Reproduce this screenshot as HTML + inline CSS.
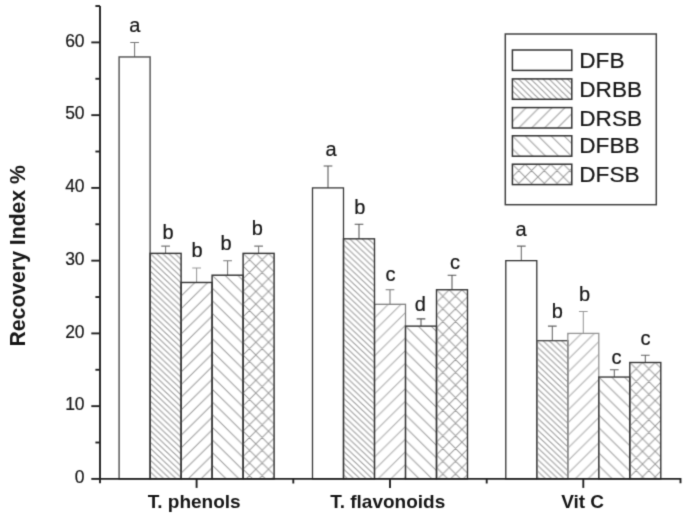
<!DOCTYPE html>
<html><head><meta charset="utf-8"><style>
html,body{margin:0;padding:0;background:#fff;width:685px;height:518px;overflow:hidden}
svg{display:block;font-family:"Liberation Sans",sans-serif;}
</style></head><body>
<svg width="685" height="518" viewBox="0 0 685 518">
<defs>
<filter id="fb" x="0" y="0" width="685" height="518" filterUnits="userSpaceOnUse" color-interpolation-filters="sRGB"><feConvolveMatrix order="3" kernelMatrix="0.0367 0.1915 0.0367 0.1915 1 0.1915 0.0367 0.1915 0.0367" divisor="1.9127" edgeMode="duplicate"/></filter>
<pattern id="b01" patternUnits="userSpaceOnUse" width="6.2" height="5.9" x="150.1" y="253.37499999999997"><path d="M-7.440,-1.180 L1.240,7.080 M-1.240,-1.180 L7.440,7.080 M4.960,-1.180 L13.640,7.080" stroke="#9a9a9a" stroke-width="1.0" fill="none"/></pattern>
<pattern id="b02" patternUnits="userSpaceOnUse" width="12.8" height="12.65" x="181.1" y="283.47499999999997"><path d="M-15.360,15.180 L2.560,-2.530 M-2.560,15.180 L15.360,-2.530 M10.240,15.180 L28.160,-2.530" stroke="#9a9a9a" stroke-width="1.0" fill="none"/></pattern>
<pattern id="b03" patternUnits="userSpaceOnUse" width="12.8" height="12.65" x="212.1" y="275.19999999999993"><path d="M-15.360,-2.530 L2.560,15.180 M-2.560,-2.530 L15.360,15.180 M10.240,-2.530 L28.160,15.180" stroke="#9a9a9a" stroke-width="1.0" fill="none"/></pattern>
<pattern id="b04" patternUnits="userSpaceOnUse" width="12.7" height="12.7" x="243.1" y="253.37499999999997"><path d="M-15.240,-2.540 L2.540,15.240 M-15.240,15.240 L2.540,-2.540 M-2.540,-2.540 L15.240,15.240 M-2.540,15.240 L15.240,-2.540 M10.160,-2.540 L27.940,15.240 M10.160,15.240 L27.940,-2.540" stroke="#9a9a9a" stroke-width="1.0" fill="none"/></pattern>
<pattern id="b12" patternUnits="userSpaceOnUse" width="12.8" height="12.65" x="374.5" y="305.29999999999995"><path d="M-15.360,15.180 L2.560,-2.530 M-2.560,15.180 L15.360,-2.530 M10.240,15.180 L28.160,-2.530" stroke="#a8a8a8" stroke-width="1.0" fill="none"/></pattern>
<pattern id="b11" patternUnits="userSpaceOnUse" width="6.2" height="5.9" x="343.5" y="238.82499999999996"><path d="M-7.440,-1.180 L1.240,7.080 M-1.240,-1.180 L7.440,7.080 M4.960,-1.180 L13.640,7.080" stroke="#9a9a9a" stroke-width="1.0" fill="none"/></pattern>
<pattern id="b13" patternUnits="userSpaceOnUse" width="12.8" height="12.65" x="405.5" y="326.125"><path d="M-15.360,-2.530 L2.560,15.180 M-2.560,-2.530 L15.360,15.180 M10.240,-2.530 L28.160,15.180" stroke="#9a9a9a" stroke-width="1.0" fill="none"/></pattern>
<pattern id="b14" patternUnits="userSpaceOnUse" width="12.7" height="12.7" x="436.5" y="289.75"><path d="M-15.240,-2.540 L2.540,15.240 M-15.240,15.240 L2.540,-2.540 M-2.540,-2.540 L15.240,15.240 M-2.540,15.240 L15.240,-2.540 M10.160,-2.540 L27.940,15.240 M10.160,15.240 L27.940,-2.540" stroke="#9a9a9a" stroke-width="1.0" fill="none"/></pattern>
<pattern id="b21" patternUnits="userSpaceOnUse" width="6.2" height="5.9" x="536.8" y="340.67499999999995"><path d="M-7.440,-1.180 L1.240,7.080 M-1.240,-1.180 L7.440,7.080 M4.960,-1.180 L13.640,7.080" stroke="#9a9a9a" stroke-width="1.0" fill="none"/></pattern>
<pattern id="b22" patternUnits="userSpaceOnUse" width="12.8" height="12.65" x="567.8" y="334.4"><path d="M-15.360,15.180 L2.560,-2.530 M-2.560,15.180 L15.360,-2.530 M10.240,15.180 L28.160,-2.530" stroke="#a8a8a8" stroke-width="1.0" fill="none"/></pattern>
<pattern id="b23" patternUnits="userSpaceOnUse" width="12.8" height="12.65" x="598.8" y="377.04999999999995"><path d="M-15.360,-2.530 L2.560,15.180 M-2.560,-2.530 L15.360,15.180 M10.240,-2.530 L28.160,15.180" stroke="#9a9a9a" stroke-width="1.0" fill="none"/></pattern>
<pattern id="b24" patternUnits="userSpaceOnUse" width="12.7" height="12.7" x="629.8" y="362.5"><path d="M-15.240,-2.540 L2.540,15.240 M-15.240,15.240 L2.540,-2.540 M-2.540,-2.540 L15.240,15.240 M-2.540,15.240 L15.240,-2.540 M10.160,-2.540 L27.940,15.240 M10.160,15.240 L27.940,-2.540" stroke="#9a9a9a" stroke-width="1.0" fill="none"/></pattern>
<pattern id="l1" patternUnits="userSpaceOnUse" width="6.1" height="6.0" x="512.4" y="78.9"><path d="M-7.320,-1.200 L1.220,7.200 M-1.220,-1.200 L7.320,7.200 M4.880,-1.200 L13.420,7.200" stroke="#9a9a9a" stroke-width="1.0" fill="none"/></pattern>
<pattern id="l2" patternUnits="userSpaceOnUse" width="12.9" height="12.9" x="512.4" y="108.6"><path d="M-15.480,15.480 L2.580,-2.580 M-2.580,15.480 L15.480,-2.580 M10.320,15.480 L28.380,-2.580" stroke="#9a9a9a" stroke-width="1.0" fill="none"/></pattern>
<pattern id="l3" patternUnits="userSpaceOnUse" width="12.9" height="12.9" x="512.4" y="135.8"><path d="M-15.480,-2.580 L2.580,15.480 M-2.580,-2.580 L15.480,15.480 M10.320,-2.580 L28.380,15.480" stroke="#9a9a9a" stroke-width="1.0" fill="none"/></pattern>
<pattern id="l4" patternUnits="userSpaceOnUse" width="12.75" height="12.75" x="512.4" y="164.2"><path d="M-15.300,-2.550 L2.550,15.300 M-15.300,15.300 L2.550,-2.550 M-2.550,-2.550 L15.300,15.300 M-2.550,15.300 L15.300,-2.550 M10.200,-2.550 L28.050,15.300 M10.200,15.300 L28.050,-2.550" stroke="#9a9a9a" stroke-width="1.0" fill="none"/></pattern>
</defs>
<g filter="url(#fb)">
<rect width="685" height="518" fill="#fff"/>
<path d="M134.60,56.95V42.40M130.25,42.40H138.95" stroke="#777" stroke-width="1.05" fill="none"/>
<rect x="119.10" y="56.95" width="31.00" height="421.95" fill="#fff" stroke="#555" stroke-width="1.45"/>
<path d="M165.60,253.37V246.10M161.25,246.10H169.95" stroke="#777" stroke-width="1.05" fill="none"/>
<rect x="150.10" y="253.37" width="31.00" height="225.53" fill="url(#b01)" stroke="#363636" stroke-width="1.45"/>
<path d="M196.60,282.47V267.92M192.25,267.92H200.95" stroke="#999" stroke-width="1.05" fill="none"/>
<rect x="181.10" y="282.47" width="31.00" height="196.43" fill="url(#b02)" stroke="#363636" stroke-width="1.45"/>
<path d="M227.60,275.20V260.65M223.25,260.65H231.95" stroke="#777" stroke-width="1.05" fill="none"/>
<rect x="212.10" y="275.20" width="31.00" height="203.70" fill="url(#b03)" stroke="#363636" stroke-width="1.45"/>
<path d="M258.60,253.37V246.10M254.25,246.10H262.95" stroke="#777" stroke-width="1.05" fill="none"/>
<rect x="243.10" y="253.37" width="31.00" height="225.53" fill="url(#b04)" stroke="#363636" stroke-width="1.45"/>
<path d="M390.00,304.30V289.75M385.65,289.75H394.35" stroke="#777" stroke-width="1.05" fill="none"/>
<rect x="374.50" y="304.30" width="31.00" height="174.60" fill="url(#b12)" stroke="#808080" stroke-width="1.3"/>
<path d="M328.00,187.90V166.07M323.65,166.07H332.35" stroke="#555" stroke-width="1.05" fill="none"/>
<rect x="312.50" y="187.90" width="31.00" height="291.00" fill="#fff" stroke="#383838" stroke-width="1.3"/>
<path d="M359.00,238.82V224.27M354.65,224.27H363.35" stroke="#555" stroke-width="1.05" fill="none"/>
<rect x="343.50" y="238.82" width="31.00" height="240.08" fill="url(#b11)" stroke="#363636" stroke-width="1.4"/>
<path d="M421.00,326.12V318.85M416.65,318.85H425.35" stroke="#555" stroke-width="1.05" fill="none"/>
<rect x="405.50" y="326.12" width="31.00" height="152.77" fill="url(#b13)" stroke="#363636" stroke-width="1.4"/>
<path d="M452.00,289.75V275.20M447.65,275.20H456.35" stroke="#555" stroke-width="1.05" fill="none"/>
<rect x="436.50" y="289.75" width="31.00" height="189.15" fill="url(#b14)" stroke="#363636" stroke-width="1.4"/>
<path d="M521.30,260.65V246.10M516.95,246.10H525.65" stroke="#6a6a6a" stroke-width="1.05" fill="none"/>
<rect x="505.80" y="260.65" width="31.00" height="218.25" fill="#fff" stroke="#333" stroke-width="1.3"/>
<path d="M552.30,340.67V326.12M547.95,326.12H556.65" stroke="#666" stroke-width="1.05" fill="none"/>
<rect x="536.80" y="340.67" width="31.00" height="138.23" fill="url(#b21)" stroke="#505050" stroke-width="1.4"/>
<path d="M583.30,333.40V311.57M578.95,311.57H587.65" stroke="#999" stroke-width="1.05" fill="none"/>
<rect x="567.80" y="333.40" width="31.00" height="145.50" fill="url(#b22)" stroke="#959595" stroke-width="1.3"/>
<path d="M614.30,377.05V369.77M609.95,369.77H618.65" stroke="#666" stroke-width="1.05" fill="none"/>
<rect x="598.80" y="377.05" width="31.00" height="101.85" fill="url(#b23)" stroke="#3c3c3c" stroke-width="1.4"/>
<path d="M645.30,362.50V355.22M640.95,355.22H649.65" stroke="#666" stroke-width="1.05" fill="none"/>
<rect x="629.80" y="362.50" width="31.00" height="116.40" fill="url(#b24)" stroke="#363636" stroke-width="1.4"/>
<text x="134.7" y="31.7" font-size="20" text-anchor="middle" fill="#161616" stroke="#161616" stroke-width="0.2">a</text>
<text x="168.1" y="238.6" font-size="20" text-anchor="middle" fill="#161616" stroke="#161616" stroke-width="0.2">b</text>
<text x="197.1" y="256.7" font-size="20" text-anchor="middle" fill="#161616" stroke="#161616" stroke-width="0.2">b</text>
<text x="226.0" y="249.8" font-size="20" text-anchor="middle" fill="#161616" stroke="#161616" stroke-width="0.2">b</text>
<text x="257.25" y="234.9" font-size="20" text-anchor="middle" fill="#161616" stroke="#161616" stroke-width="0.2">b</text>
<text x="331.0" y="156.1" font-size="20" text-anchor="middle" fill="#161616" stroke="#161616" stroke-width="0.2">a</text>
<text x="359.8" y="214.0" font-size="20" text-anchor="middle" fill="#161616" stroke="#161616" stroke-width="0.2">b</text>
<text x="390.5" y="280.9" font-size="20" text-anchor="middle" fill="#161616" stroke="#161616" stroke-width="0.2">c</text>
<text x="420.3" y="310.9" font-size="20" text-anchor="middle" fill="#161616" stroke="#161616" stroke-width="0.2">d</text>
<text x="455.0" y="268.9" font-size="20" text-anchor="middle" fill="#161616" stroke="#161616" stroke-width="0.2">c</text>
<text x="521.0" y="235.8" font-size="20" text-anchor="middle" fill="#161616" stroke="#161616" stroke-width="0.2">a</text>
<text x="557.25" y="318.0" font-size="20" text-anchor="middle" fill="#161616" stroke="#161616" stroke-width="0.2">b</text>
<text x="584.5" y="300.6" font-size="20" text-anchor="middle" fill="#161616" stroke="#161616" stroke-width="0.2">b</text>
<text x="616.4" y="363.6" font-size="20" text-anchor="middle" fill="#161616" stroke="#161616" stroke-width="0.2">c</text>
<text x="645.4" y="345.0" font-size="20" text-anchor="middle" fill="#161616" stroke="#161616" stroke-width="0.2">c</text>
<path d="M100,6 V483.2 M99,478.9 H680.5 V483.2" stroke="#222" stroke-width="1.9" fill="none"/>
<path d="M91.3,478.90H100" stroke="#222" stroke-width="1.9"/>
<text x="84.6" y="483.00" font-size="17.5" text-anchor="end" fill="#161616" stroke="#161616" stroke-width="0.2">0</text>
<path d="M95.4,442.52H100" stroke="#222" stroke-width="1.9"/>
<path d="M91.3,406.15H100" stroke="#222" stroke-width="1.9"/>
<text x="84.6" y="410.25" font-size="17.5" text-anchor="end" fill="#161616" stroke="#161616" stroke-width="0.2">10</text>
<path d="M95.4,369.77H100" stroke="#222" stroke-width="1.9"/>
<path d="M91.3,333.40H100" stroke="#222" stroke-width="1.9"/>
<text x="84.6" y="337.50" font-size="17.5" text-anchor="end" fill="#161616" stroke="#161616" stroke-width="0.2">20</text>
<path d="M95.4,297.02H100" stroke="#222" stroke-width="1.9"/>
<path d="M91.3,260.65H100" stroke="#222" stroke-width="1.9"/>
<text x="84.6" y="264.75" font-size="17.5" text-anchor="end" fill="#161616" stroke="#161616" stroke-width="0.2">30</text>
<path d="M95.4,224.27H100" stroke="#222" stroke-width="1.9"/>
<path d="M91.3,187.90H100" stroke="#222" stroke-width="1.9"/>
<text x="84.6" y="192.00" font-size="17.5" text-anchor="end" fill="#161616" stroke="#161616" stroke-width="0.2">40</text>
<path d="M95.4,151.52H100" stroke="#222" stroke-width="1.9"/>
<path d="M91.3,115.15H100" stroke="#222" stroke-width="1.9"/>
<text x="84.6" y="119.25" font-size="17.5" text-anchor="end" fill="#161616" stroke="#161616" stroke-width="0.2">50</text>
<path d="M95.4,78.77H100" stroke="#222" stroke-width="1.9"/>
<path d="M91.3,42.40H100" stroke="#222" stroke-width="1.9"/>
<text x="84.6" y="46.50" font-size="17.5" text-anchor="end" fill="#161616" stroke="#161616" stroke-width="0.2">60</text>
<path d="M95.4,6.02H100" stroke="#222" stroke-width="1.9"/>
<path d="M196.6,478.9 V487.9" stroke="#222" stroke-width="1.9"/>
<path d="M390.0,478.9 V487.9" stroke="#222" stroke-width="1.9"/>
<path d="M583.3,478.9 V487.9" stroke="#222" stroke-width="1.9"/>
<path d="M293.3,478.9 V483.5" stroke="#222" stroke-width="1.9"/>
<path d="M486.7,478.9 V483.5" stroke="#222" stroke-width="1.9"/>
<text x="194.2" y="508" font-size="19" font-weight="bold" text-anchor="middle" fill="#161616">T. phenols</text>
<text x="387.75" y="508" font-size="19" font-weight="bold" text-anchor="middle" fill="#161616">T. flavonoids</text>
<text x="582.6" y="508" font-size="19" font-weight="bold" text-anchor="middle" fill="#161616">Vit C</text>
<text transform="translate(24.6,255.8) rotate(-90) scale(1,1.06)" font-size="21.2" font-weight="bold" text-anchor="middle" fill="#161616">Recovery Index %</text>
<rect x="505.3" y="34" width="151" height="170.7" fill="#fff" stroke="#404040" stroke-width="1.5"/>
<rect x="512.4" y="50.00" width="59.4" height="20.4" fill="#fff" stroke="#333" stroke-width="1.5"/>
<text x="579.3" y="67.80" font-size="22.6" fill="#161616" stroke="#161616" stroke-width="0.2">DFB</text>
<rect x="512.4" y="78.90" width="59.4" height="20.4" fill="url(#l1)" stroke="#333" stroke-width="1.5"/>
<text x="579.3" y="97.00" font-size="22.6" fill="#161616" stroke="#161616" stroke-width="0.2">DRBB</text>
<rect x="512.4" y="107.60" width="59.4" height="20.4" fill="url(#l2)" stroke="#333" stroke-width="1.5"/>
<text x="579.3" y="125.70" font-size="22.6" fill="#161616" stroke="#161616" stroke-width="0.2">DRSB</text>
<rect x="512.4" y="135.80" width="59.4" height="20.4" fill="url(#l3)" stroke="#333" stroke-width="1.5"/>
<text x="579.3" y="153.40" font-size="22.6" fill="#161616" stroke="#161616" stroke-width="0.2">DFBB</text>
<rect x="512.4" y="164.20" width="59.4" height="20.4" fill="url(#l4)" stroke="#333" stroke-width="1.5"/>
<text x="579.3" y="181.60" font-size="22.6" fill="#161616" stroke="#161616" stroke-width="0.2">DFSB</text>
</g></svg></body></html>
